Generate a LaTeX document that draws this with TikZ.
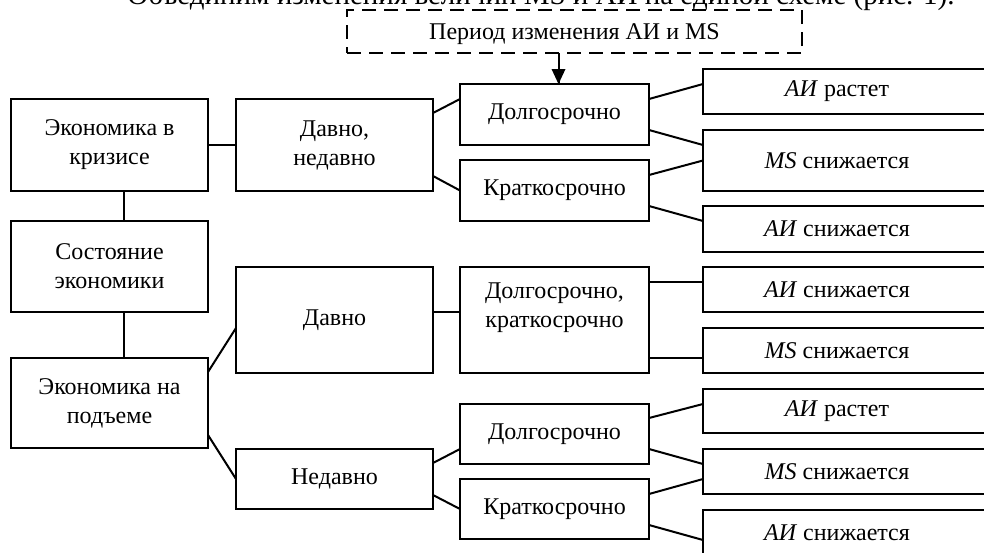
\documentclass[tikz,border=0pt]{standalone}
\usepackage{fontspec}
\setmainfont{Liberation Serif}
\newcommand{\rescell}[1]{\makebox[134pt]{#1}\hspace*{15pt}}

\begin{document}
\begin{tikzpicture}[x=0.5pt,y=-0.5pt,
	font=\fontsize{12}{14.5}\selectfont,
	blk/.style={draw=black,line width=1.15pt,align=center,outer sep=0pt,minimum width=98.5pt},
	mid/.style={blk,minimum width=94.5pt},
	res/.style={blk,inner xsep=0pt,anchor=west},
	link/.style={draw=black,line width=1pt}]
	\clip (0,0) rectangle (984,552);
	\node[anchor=base,font=\fontsize{14.5}{17}\selectfont] (title) at (541,4.5) {Объединим изменения величин MS и АИ на единой схеме (рис. 1).};
	\node[draw=black,line width=1.15pt,dash pattern=on 7pt off 4pt,minimum width=227.5pt,minimum height=21.5pt,outer sep=0pt,text height=9pt,text depth=1pt] (per) at (574.5,31.5) {Период изменения АИ и MS};
	\node[blk,minimum height=46pt] (kriz) at (109.5,145) {Экономика в\\кризисе};
	\node[blk,minimum height=45.5pt] (sost) at (109.5,266.5) {Состояние\\экономики};
	\node[blk,minimum height=45pt] (podem) at (109.5,403) {Экономика на\\подъеме};
	\node[blk,minimum height=46pt] (dn) at (334.5,145) {Давно,\\недавно};
	\node[blk,minimum height=53pt] (davno) at (334.5,320) {Давно};
	\node[blk,minimum height=30pt] (nedavno) at (334.5,479) {Недавно};
	\node[mid,minimum height=30.5pt] (dolg1) at (554.5,114.5) {Долгосрочно};
	\node[mid,minimum height=30.5pt] (krat1) at (554.5,190.5) {Краткосрочно};
	\node[mid,minimum height=53pt] (dk) at (554.5,320) {Долгосрочно,\\краткосрочно\\\mbox{}};
	\node[mid,minimum height=30pt] (dolg2) at (554.5,434) {Долгосрочно};
	\node[mid,minimum height=30pt] (krat2) at (554.5,509) {Краткосрочно};
	\node[res,minimum height=22.5pt] (r1) at (703,91.5) {\rescell{\textit{АИ} растет}};
	\node[res,minimum height=30.5pt] (r2) at (703,160.5) {\rescell{\textit{MS} снижается}};
	\node[res,minimum height=23pt] (r3) at (703,229) {\rescell{\textit{АИ} снижается}};
	\node[res,minimum height=22.5pt] (r4) at (703,289.5) {\rescell{\textit{АИ} снижается}};
	\node[res,minimum height=22.5pt] (r5) at (703,350.5) {\rescell{\textit{MS} снижается}};
	\node[res,minimum height=22pt] (r6) at (703,411) {\rescell{\textit{АИ} растет}};
	\node[res,minimum height=22.5pt] (r7) at (703,471.5) {\rescell{\textit{MS} снижается}};
	\node[res,minimum height=22.5pt] (r8) at (703,532.5) {\rescell{\textit{АИ} снижается}};
	\draw[link] ([xshift=2pt]dolg1.north |- per.south) -- ([xshift=2pt]dolg1.north);
	\fill[black] ([xshift=2pt]dolg1.north) -- ++(-3.5pt,7.5pt) -- ++(7pt,0pt) -- cycle;
	\draw[link] ([xshift=7pt]kriz.south) -- ([xshift=7pt]sost.north);
	\draw[link] ([xshift=7pt]sost.south) -- ([xshift=7pt]podem.north);
	\draw[link] (kriz) -- (dn);
	\draw[link] ([yshift=16pt]dn.east) -- ([yshift=7.75pt]dolg1.west);
	\draw[link] ([yshift=-15.5pt]dn.east) -- (krat1.west);
	\draw[link] ([yshift=7.75pt]dolg1.east) -- ([yshift=3.75pt]r1.west);
	\draw[link] ([yshift=-7.75pt]dolg1.east) -- ([yshift=7.75pt]r2.west);
	\draw[link] ([yshift=7.75pt]krat1.east) -- (r2.west);
	\draw[link] ([yshift=-7.75pt]krat1.east) -- ([yshift=4pt]r3.west);
	\draw[link] ([yshift=15.5pt]podem.east) -- ([yshift=-4pt]davno.west);
	\draw[link] ([yshift=-16pt]podem.east) -- (nedavno.west);
	\draw[link] ([yshift=4pt]davno.east) -- ([yshift=4pt]dk.west);
	\draw[link] ([yshift=19pt]dk.east) -- ([yshift=3.75pt]r4.west);
	\draw[link] ([yshift=-19pt]dk.east) -- ([yshift=-3.75pt]r5.west);
	\draw[link] ([yshift=8pt]nedavno.east) -- ([yshift=-7.5pt]dolg2.west);
	\draw[link] ([yshift=-8pt]nedavno.east) -- (krat2.west);
	\draw[link] ([yshift=8pt]dolg2.east) -- ([yshift=3.5pt]r6.west);
	\draw[link] ([yshift=-7.5pt]dolg2.east) -- ([yshift=3.75pt]r7.west);
	\draw[link] ([yshift=7.5pt]krat2.east) -- ([yshift=-3.75pt]r7.west);
	\draw[link] ([yshift=-8pt]krat2.east) -- ([yshift=-3.75pt]r8.west);
\end{tikzpicture}
\end{document}
